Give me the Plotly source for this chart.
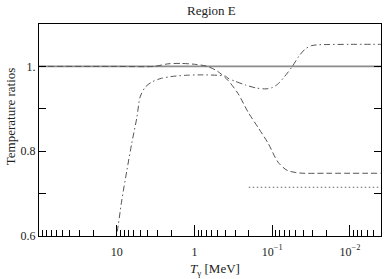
import plotly.graph_objects as go

# data (T in MeV, ratios)
ref_T = [100, 0.004]
ref_v = [1.0, 1.0]

dashed_T = [100, 10, 3.3, 2.2, 1.5, 1.0, 0.68, 0.50, 0.37, 0.275, 0.204, 0.152, 0.113, 0.084, 0.0645, 0.0507, 0.04, 0.02, 0.004]
dashed_v = [1.0, 1.0, 1.0, 1.006, 1.007, 1.005, 1.0, 0.988, 0.967, 0.936, 0.892, 0.856, 0.819, 0.774, 0.755, 0.750, 0.748, 0.748, 0.748]

dashdot_T = [11.0, 10.0, 8.6, 7.4, 6.4, 5.5, 5.0, 4.3, 3.55, 2.77, 2.0, 1.3, 0.85, 0.5, 0.40, 0.37, 0.30, 0.22, 0.16, 0.12, 0.10, 0.085, 0.07, 0.055, 0.045, 0.037, 0.031, 0.025, 0.01, 0.004]
dashdot_v = [0.58, 0.605, 0.685, 0.755, 0.819, 0.88, 0.928, 0.951, 0.963, 0.971, 0.976, 0.979, 0.980, 0.979, 0.977, 0.972, 0.965, 0.956, 0.949, 0.947, 0.950, 0.958, 0.975, 1.0, 1.025, 1.042, 1.049, 1.051, 1.052, 1.052]

dotted_T = [0.2, 0.004]
dotted_v = [0.715, 0.715]

x_major = [100, 10, 1, 0.1, 0.01]
x_major_text = ["", "10", "1", "10<sup>−1</sup>", "10<sup>−2</sup>"]
y_ticks = [0.6, 0.7, 0.8, 0.9, 1.0]
y_tick_text = ["0.6", "", "0.8", "", "1."]

x_minor = []
for dec in [10, 1, 0.1, 0.01, 0.001]:
    for m in range(2, 10):
        x_minor.append(m * dec)

fig = go.Figure()
fig.add_trace(go.Scatter(x=ref_T, y=ref_v, mode="lines",
                         line=dict(color="#8c8c8c", width=1.6), showlegend=False))
fig.add_trace(go.Scatter(x=dashed_T, y=dashed_v, mode="lines",
                         line=dict(color="#555555", width=1, dash="6px,3px", shape="spline", smoothing=0.8),
                         showlegend=False))
fig.add_trace(go.Scatter(x=dashdot_T, y=dashdot_v, mode="lines",
                         line=dict(color="#555555", width=1, dash="6px,3px,1.5px,3px", shape="spline", smoothing=0.8),
                         showlegend=False))
fig.add_trace(go.Scatter(x=dotted_T, y=dotted_v, mode="lines",
                         line=dict(color="#666666", width=1, dash="1.5px,2.5px"), showlegend=False))

font = "Liberation Serif, Times New Roman, serif"
txt = "#222222"
fig.update_layout(
    width=384, height=279,
    margin=dict(l=39, r=3, t=24, b=43),
    paper_bgcolor="white", plot_bgcolor="white",
    font=dict(family=font, size=12, color=txt),
    annotations=[
        dict(text="Region E", xref="paper", yref="paper", x=0.505, y=1.0, yshift=14,
             xanchor="center", yanchor="middle", showarrow=False,
             font=dict(family=font, size=13, color=txt)),
        dict(text="<i>T</i><sub>γ</sub> [MeV]", xref="paper", yref="paper", x=0.515, y=0, yshift=-33,
             xanchor="center", yanchor="middle", showarrow=False,
             font=dict(family=font, size=13, color=txt)),
        dict(text="Temperature ratios", xref="paper", yref="paper", x=0, xshift=-29, y=0.565,
             xanchor="center", yanchor="middle", textangle=-90, showarrow=False,
             font=dict(family=font, size=13, color=txt)),
    ],
)
fig.update_xaxes(
    type="log", range=[2, -2.4], autorange=False,
    showline=True, linecolor="black", linewidth=1.2, mirror=True,
    showgrid=False, zeroline=False,
    tickmode="array", tickvals=x_major, ticktext=x_major_text,
    ticks="inside", ticklen=11, tickwidth=1, tickcolor="black",
    ticklabelstandoff=4,
    tickfont=dict(family=font, size=12, color=txt),
    minor=dict(tickmode="array", tickvals=x_minor, ticks="inside", ticklen=6,
               tickwidth=1, tickcolor="black", showgrid=False),
)
fig.update_yaxes(
    range=[0.6, 1.1], autorange=False,
    showline=True, linecolor="black", linewidth=1.2, mirror="ticks",
    showgrid=False, zeroline=False,
    tickmode="array", tickvals=y_ticks, ticktext=y_tick_text,
    ticks="inside", ticklen=7, tickwidth=1, tickcolor="black",
    tickfont=dict(family=font, size=12, color=txt),
)
fig.write_html("out.html", config={"displayModeBar": False},
               post_script="document.body.style.margin='0px';document.body.style.padding='0px';")
